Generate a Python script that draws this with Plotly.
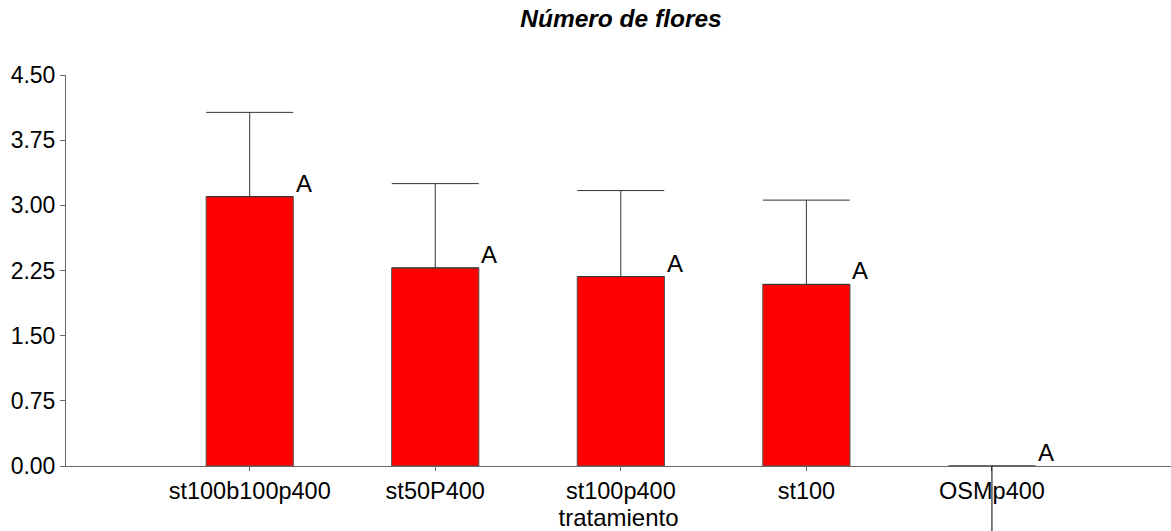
import plotly.graph_objects as go

categories = ["st100b100p400", "st50P400", "st100p400", "st100", "OSMp400"]
means = [3.10, 2.28, 2.18, 2.09, 0.0]
err_plus = [0.97, 0.97, 0.99, 0.97, None]
letters = ["A", "A", "A", "A", "A"]
osm_down_paper = 0.2  # downward line under OSMp400 (fraction of plot height)

y_ticks = [0.0, 0.75, 1.5, 2.25, 3.0, 3.75, 4.5]
y_ticktext = ["0.00", "0.75", "1.50", "2.25", "3.00", "3.75", "4.50"]

x_idx = list(range(len(categories)))
FONT = "Liberation Sans, Arial"

fig = go.Figure()
fig.add_trace(go.Bar(
    x=x_idx, y=means, width=0.47,
    marker=dict(color="#FF0000",
                line=dict(color="#555555", width=[1 if m > 0 else 0 for m in means])),
    error_y=dict(type="data", symmetric=False, array=err_plus,
                 arrayminus=[0 if e is not None else None for e in err_plus], color="#333333",
                 thickness=1, width=43.5, visible=True),
    showlegend=False,
))

for i, (m, l) in enumerate(zip(means, letters)):
    fig.add_annotation(x=i + 0.29, y=m, text=l, showarrow=False,
                       xanchor="center", yanchor="bottom", yshift=-2,
                       font=dict(family=FONT, size=24, color="black"))

# downward line at OSMp400
fig.add_shape(type="line", xref="x", yref="paper", x0=4, x1=4, y0=0, y1=-osm_down_paper,
              line=dict(color="black", width=1), layer="above")

fig.update_layout(
    width=1171, height=531,
    margin=dict(l=66, r=0, t=75, b=65),
    plot_bgcolor="white", paper_bgcolor="white",
    font=dict(family=FONT, size=22, color="black"),
    title=dict(text="<b><i>Número de flores</i></b>", x=0.5303, xanchor="center",
               y=0.982, yanchor="top", pad=dict(t=0),
               font=dict(family=FONT, size=24.5, color="black")),
    xaxis=dict(range=[-0.99, 4.965], tickmode="array", tickvals=x_idx, ticktext=categories,
               showline=True, linecolor="#666666", linewidth=1, ticks="outside", ticklen=4,
               tickcolor="#666666", showgrid=False, zeroline=False, automargin=False,
               title=dict(text="tratamiento", standoff=0, font=dict(size=24)),
               tickfont=dict(size=23.5)),
    yaxis=dict(range=[0, 4.5], tickmode="array", tickvals=y_ticks, ticktext=y_ticktext,
               showline=True, linecolor="#666666", linewidth=1, ticks="outside", ticklen=5,
               tickcolor="#666666", showgrid=False, zeroline=False, automargin=False,
               tickfont=dict(size=23)),
)

fig.write_html("out.html", config={"displayModeBar": False},
               post_script="document.body.style.margin='0';document.body.style.overflow='hidden';")
